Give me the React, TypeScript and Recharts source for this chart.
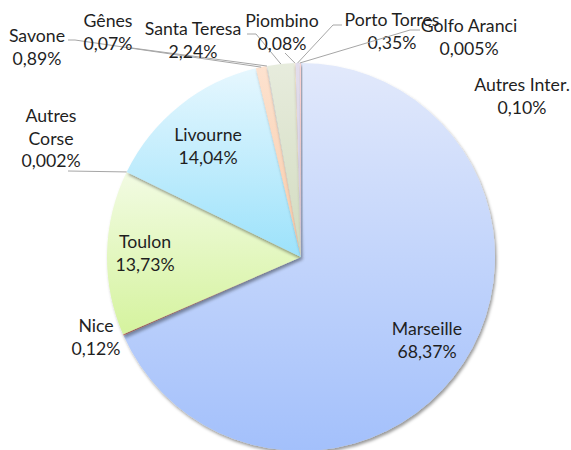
import { PieChart, Pie, Cell } from "recharts";

// Répartition du trafic par port (%)
const ports = [
  "Marseille",
  "Nice",
  "Toulon",
  "Autres Corse",
  "Livourne",
  "Savone",
  "Gênes",
  "Santa Teresa",
  "Piombino",
  "Porto Torres",
  "Golfo Aranci",
  "Autres Inter.",
];
const shares = [68.37, 0.12, 13.73, 0.002, 14.04, 0.89, 0.07, 2.24, 0.08, 0.35, 0.005, 0.1];

const data = ports.map((name, i) => ({ name, value: shares[i] }));

// gradient colours (top, bottom) per slice
const fills: [string, string][] = [
  ["#e2e9fb", "#a3c0fb"], // Marseille
  ["#f7b3ab", "#f29a90"], // Nice
  ["#f2fbe3", "#d5f39e"], // Toulon
  ["#ecdcf3", "#d8bfe6"], // Autres Corse
  ["#e6f7fe", "#9ce2fb"], // Livourne
  ["#fde2cf", "#f9cba8"], // Savone
  ["#e4e4e4", "#cfcfcf"], // Gênes
  ["#e7ecdd", "#d2dbbf"], // Santa Teresa
  ["#f5e8cf", "#eed8ad"], // Piombino
  ["#e2ddec", "#d2cbe2"], // Porto Torres
  ["#d9e8f7", "#c0d6f0"], // Golfo Aranci
  ["#f9d3d3", "#f2b9b9"], // Autres Inter.
];

// label placement: centre x, first baseline y, text lines, leader start points
const labelLayout: Record<string, { x: number; y: number; lines?: string[]; leader?: number[][] }> = {
  "Marseille": { x: 427, y: 335 },
  "Nice": { x: 96, y: 332 },
  "Toulon": { x: 145, y: 248 },
  "Autres Corse": { x: 51, y: 122, lines: ["Autres", "Corse"], leader: [[68, 171]] },
  "Livourne": { x: 208, y: 141 },
  "Savone": { x: 37, y: 42, leader: [[68, 40], [75, 40]] },
  "Gênes": { x: 108, y: 27, leader: [[132, 48]] },
  "Santa Teresa": { x: 193, y: 35, leader: [[247, 34], [256, 34]] },
  "Piombino": { x: 282, y: 27, leader: [[285, 53]] },
  "Porto Torres": { x: 392, y: 26, leader: [[342, 25], [333, 25]] },
  "Golfo Aranci": { x: 469, y: 32, leader: [[420, 30], [410, 30]] },
  "Autres Inter.": { x: 522, y: 91 },
};

const RAD = Math.PI / 180;
const LINE_H = 22.5;

function fmt(v: number): string {
  return v.toFixed(v < 0.01 ? 3 : 2).replace(".", ",") + "%";
}

function renderLabel(props: any) {
  const { cx, cy, midAngle, outerRadius, index } = props;
  const name = ports[index];
  const lay = labelLayout[name];
  const lines = [...(lay.lines ?? [name]), fmt(shares[index])];
  let leader = null;
  if (lay.leader) {
    const ex = cx + outerRadius * Math.cos(-midAngle * RAD);
    const ey = cy + outerRadius * Math.sin(-midAngle * RAD);
    const pts = [...lay.leader, [ex, ey]].map((p) => p.join(",")).join(" ");
    leader = <polyline points={pts} fill="none" stroke="#a6a6a6" strokeWidth={1} />;
  }
  return (
    <g key={`lbl-${index}`}>
      {leader}
      <text
        x={lay.x}
        y={lay.y}
        textAnchor="middle"
        fill="#1f1f1f"
        fontSize={17.7}
        fontFamily="Lato, 'Noto Sans', sans-serif"
      >
        {lines.map((t, i) => (
          <tspan key={i} x={lay.x} y={lay.y + i * LINE_H}>
            {t}
          </tspan>
        ))}
      </text>
    </g>
  );
}

export default function App() {
  return (
    <div style={{ position: "absolute", left: 0, top: 0, width: 571, height: 450, background: "#fff" }}>
      <PieChart width={571} height={450} margin={{ top: 0, right: 0, bottom: 0, left: 0 }}>
        <defs>
          <filter id="sliceShadow" x="-20%" y="-20%" width="140%" height="140%">
            <feDropShadow dx={1.5} dy={2.5} stdDeviation={1.8} floodColor="#000" floodOpacity={0.4} />
          </filter>
          {fills.map(([a, b], i) => (
            <linearGradient key={i} id={`grad${i}`} x1="0" y1="0" x2="0" y2="1">
              <stop offset="0%" stopColor={a} />
              <stop offset="100%" stopColor={b} />
            </linearGradient>
          ))}
        </defs>
        <Pie
          data={data}
          dataKey="value"
          nameKey="name"
          cx={301}
          cy={257}
          outerRadius={194}
          startAngle={90}
          endAngle={-270}
          stroke="none"
          label={renderLabel}
          labelLine={false}
          isAnimationActive={false}
        >
          {data.map((d, i) => (
            <Cell key={d.name} fill={`url(#grad${i})`} style={{ filter: "url(#sliceShadow)" }} />
          ))}
        </Pie>
      </PieChart>
    </div>
  );
}
